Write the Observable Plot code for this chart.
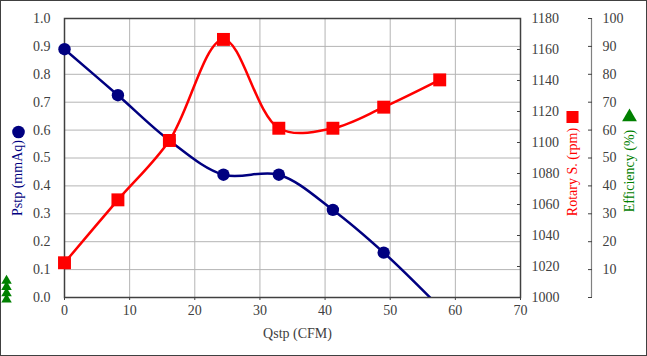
<!DOCTYPE html>
<html>
<head>
<meta charset="utf-8">
<script src="https://cdn.jsdelivr.net/npm/d3@7"></script>
<script src="https://cdn.jsdelivr.net/npm/@observablehq/plot@0.6"></script>
<style>
  html, body { margin: 0; padding: 0; background: #fff; }
  #chart svg { display: block; outline: 1px solid #404040; outline-offset: -1px; }
  #chart svg, #chart svg text, #chart svg g { font-family: "Liberation Serif", "Times New Roman", serif !important; font-variant: normal !important; }
</style>
</head>
<body>
<div id="chart"></div>
<script>
// ---- data ----
const qstp = [0, 8.2, 16.1, 24.4, 32.9, 41.2, 49.0, 57.6];          // CFM
const pstp = [0.89, 0.725, 0.563, 0.44, 0.44, 0.314, 0.161, -0.035]; // mmAq
const rpm  = [1022.4, 1063, 1101.3, 1166.5, 1109.2, 1109.2, 1122.8, 1140.4]; // rpm
const effQ = [-8.9, -8.9, -8.9, -8.9];   // efficiency points drawn in left margin
const effV = [6.0, 3.8, 1.5, -0.7];      // %

const pTicks = [0, 0.1, 0.2, 0.3, 0.4, 0.5, 0.6, 0.7, 0.8, 0.9, 1.0];
const qTicks = [0, 10, 20, 30, 40, 50, 60, 70];
const rpmTicks = [1000, 1020, 1040, 1060, 1080, 1100, 1120, 1140, 1160, 1180];
const effTicks = [0, 10, 20, 30, 40, 50, 60, 70, 80, 90, 100];

const RPM0 = 1000, RPM1 = 1180;
const toP = r => (r - RPM0) / (RPM1 - RPM0);
const effToP = e => e / 100;

const NAVY = "#000080", RED = "#ff0000", GREEN = "#008000", TXT = "#404040";
const FONT = "Liberation Serif";

const pData = qstp.map((q, i) => ({q, v: pstp[i]}));
const rData = qstp.map((q, i) => ({q, v: toP(rpm[i])}));
const eData = effQ.map((q, i) => ({q, v: effToP(effV[i])}));

const axisText = {label: null, fill: TXT, fontFamily: FONT, fontSize: 14, fontVariant: "normal"};

const chart = Plot.plot({
  width: 647,
  height: 356,
  marginLeft: 64,
  marginRight: 127,
  marginTop: 18,
  marginBottom: 59,
  style: {fontFamily: FONT, fontSize: "14px", color: TXT, background: "#fff"},
  x: {domain: [0, 70]},
  y: {domain: [0, 1]},
  marks: [
    Plot.gridY(pTicks, {stroke: "#b4b4b4", strokeOpacity: 1}),
    Plot.gridX(qTicks, {stroke: "#b4b4b4", strokeOpacity: 1}),
    Plot.frame({stroke: "#404040", strokeWidth: 1.5}),
    Plot.axisY(pTicks, {anchor: "left", tickSize: 0, tickPadding: 14, tickFormat: d3.format(".1f"), ...axisText}),
    Plot.axisX(qTicks, {anchor: "bottom", tickSize: 3, tickPadding: 5, tickFormat: d => String(d), ...axisText}),
    Plot.axisY(rpmTicks.map(toP), {anchor: "right", tickSize: -4, tickPadding: 15, tickFormat: v => String(Math.round(RPM0 + v * (RPM1 - RPM0))), ...axisText}),
    Plot.ruleX([70], {dx: 71, y1: 0, y2: 1, stroke: "#808080", strokeWidth: 1.2}),
    Plot.axisY(effTicks.map(effToP), {anchor: "right", dx: 71, tickSize: -4, tickPadding: 15, tickFormat: v => (v === 0 ? "" : String(Math.round(v * 100))), ...axisText}),
    Plot.text(["Qstp (CFM)"], {frameAnchor: "bottom", dy: 40, dx: 5, fill: TXT, fontSize: 14, fontFamily: FONT}),
    // lines
    Plot.line(pData, {x: "q", y: "v", curve: "catmull-rom", stroke: NAVY, strokeWidth: 2.5, clip: true}),
    Plot.line(rData, {x: "q", y: "v", curve: "catmull-rom", stroke: RED, strokeWidth: 2.5, clip: true}),
    Plot.dot(pData, {x: "q", y: "v", r: 6.2, fill: NAVY, filter: d => d.v >= 0}),
    Plot.dot(rData, {x: "q", y: "v", r: 7.3, symbol: "square", fill: RED}),
    Plot.dot(eData, {x: "q", y: "v", r: 3.9, symbol: "triangle", fill: GREEN}),
    // axis titles with legend markers
    Plot.text(["Pstp (mmAq)"], {frameAnchor: "left", textAnchor: "middle", dx: -47, dy: 20, rotate: -90, fill: NAVY, fontSize: 14, fontFamily: FONT}),
    Plot.dot([0], {frameAnchor: "left", dx: -46, dy: -26, r: 6.3, fill: NAVY}),
    Plot.text(["Rotary S. (rpm)"], {frameAnchor: "right", textAnchor: "middle", dx: 52, dy: 14, rotate: -90, fill: RED, fontSize: 14, fontFamily: FONT}),
    Plot.dot([0], {frameAnchor: "right", dx: 52, dy: -41, r: 6.8, symbol: "square", fill: RED}),
    Plot.text(["Efficiency (%)"], {frameAnchor: "right", textAnchor: "middle", dx: 109, dy: 13, rotate: -90, fill: GREEN, fontSize: 14, fontFamily: FONT}),
    Plot.dot([0], {frameAnchor: "right", dx: 109, dy: -41, r: 5.5, symbol: "triangle", fill: GREEN})
  ]
});
document.getElementById("chart").appendChild(chart);
</script>
</body>
</html>
